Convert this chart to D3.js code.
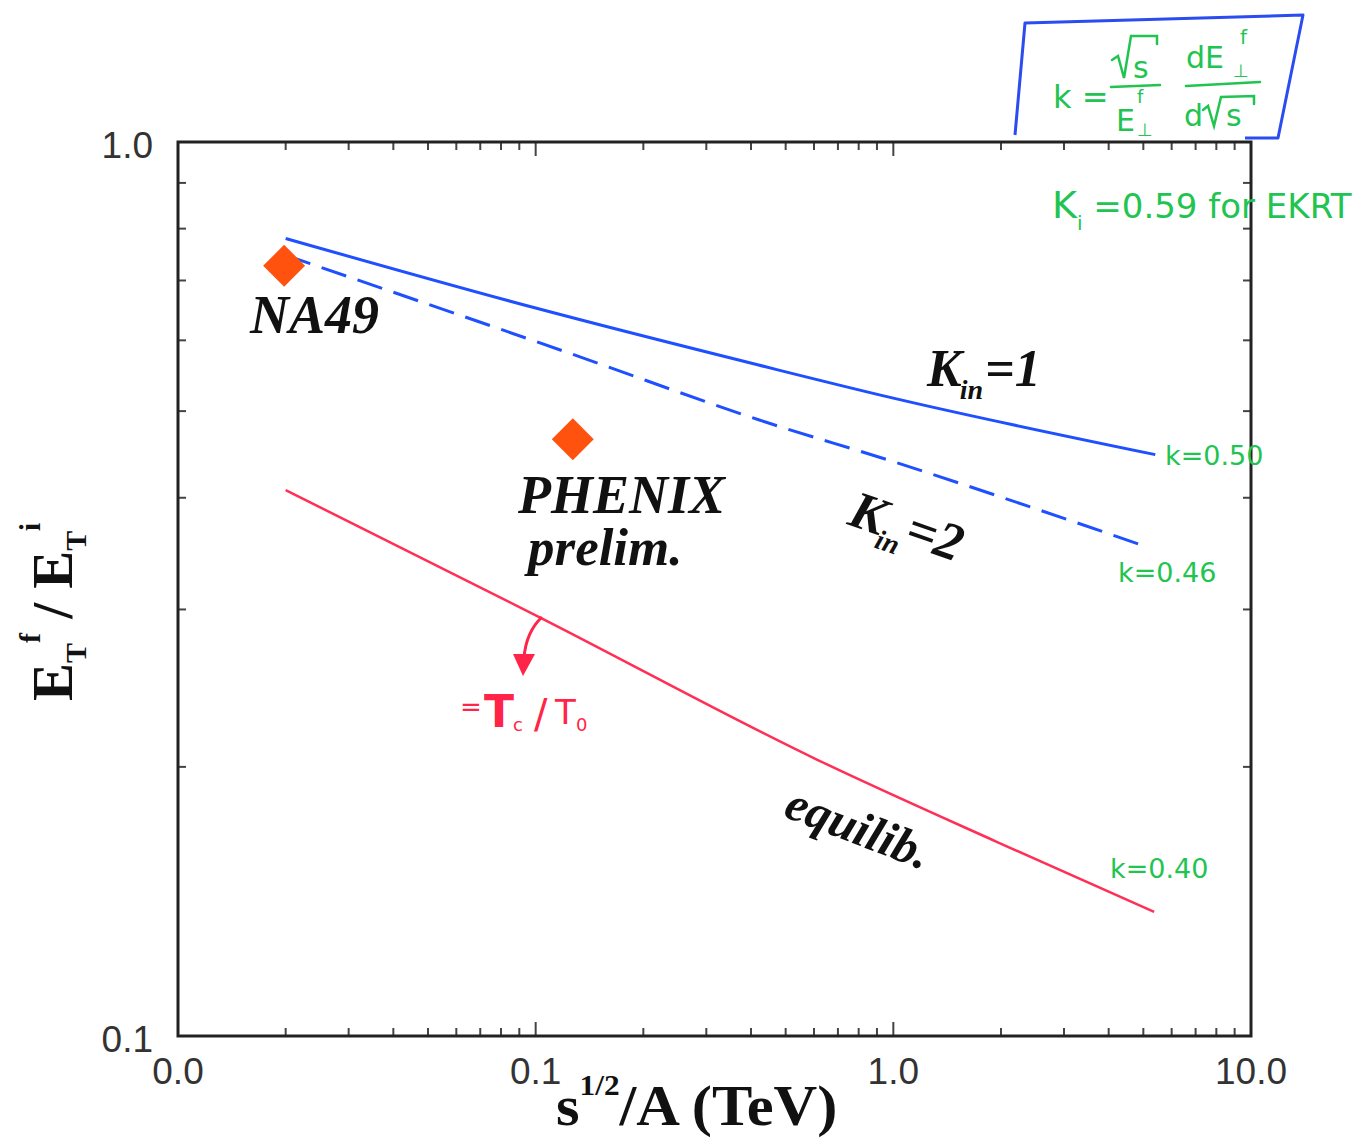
<!DOCTYPE html>
<html><head><meta charset="utf-8">
<script src="https://cdn.jsdelivr.net/npm/d3@7"></script>
<style>body{margin:0;background:#fff}svg{display:block}</style>
</head><body>
<svg id="chart" width="1367" height="1140"></svg>
<script>
// ---- data ----
const kin1X = [0.02, 0.1, 0.42, 1.0, 5.4];
const kin1Y = [0.78, 0.652, 0.563, 0.517, 0.447];
const kin2X = [0.02, 0.133, 0.42, 1.0, 4.96];
const kin2Y = [0.747, 0.575, 0.489, 0.439, 0.354];
const equilX = [0.02, 0.1026, 0.613, 1.952, 5.36];
const equilY = [0.408, 0.294, 0.2037, 0.1648, 0.1377];
const pointNames = ["NA49", "PHENIX"];
const pointX = [0.0198, 0.127];
const pointY = [0.727, 0.465];
const xTickValues = [0.01, 0.1, 1, 10];
const xTickLabels = ["0.0", "0.1", "1.0", "10.0"];
const yTickValues = [0.1, 1];
const yTickLabels = ["0.1", "1.0"];
const kLabels = ["k=0.50", "k=0.46", "k=0.40"];

const svg = d3.select("#chart");
const x = d3.scaleLog().domain([0.01, 10]).range([178, 1251]);
const y = d3.scaleLog().domain([0.1, 1]).range([1036, 142]);
const [x0, x1] = x.range(), [y0, y1] = y.range();

// ---- ticks (all four sides, inward) ----
const tickG = svg.append("g").attr("stroke", "#444").attr("stroke-width", 2);
const isMajor = v => Math.abs(Math.log10(v) - Math.round(Math.log10(v))) < 1e-9;
x.ticks().forEach(v => {
  const px = x(v), L = isMajor(v) ? 14 : 8;
  tickG.append("line").attr("x1", px).attr("x2", px).attr("y1", y0).attr("y2", y0 - L);
  tickG.append("line").attr("x1", px).attr("x2", px).attr("y1", y1).attr("y2", y1 + L);
});
y.ticks().forEach(v => {
  const py = y(v), L = isMajor(v) ? 14 : 8;
  tickG.append("line").attr("y1", py).attr("y2", py).attr("x1", x0).attr("x2", x0 + L);
  tickG.append("line").attr("y1", py).attr("y2", py).attr("x1", x1).attr("x2", x1 - L);
});
// frame
svg.append("rect").attr("x", x0).attr("y", y1).attr("width", x1 - x0).attr("height", y0 - y1)
  .attr("fill", "none").attr("stroke", "#222").attr("stroke-width", 3);

// tick labels
const tickFont = "'Liberation Sans', Arial, sans-serif";
xTickValues.forEach((v, i) => {
  svg.append("text").attr("x", x(v)).attr("y", 1084).attr("text-anchor", "middle")
    .attr("font-family", tickFont).attr("font-size", 37).attr("fill", "#333").text(xTickLabels[i]);
});
yTickValues.forEach((v, i) => {
  svg.append("text").attr("x", 153).attr("y", y(v) + 16).attr("text-anchor", "end")
    .attr("font-family", tickFont).attr("font-size", 37).attr("fill", "#333").text(yTickLabels[i]);
});

// axis titles
const serif = "'Liberation Serif', 'Times New Roman', serif";
const xt = svg.append("text").attr("transform", "translate(556,1125) scale(1.08,1)")
  .attr("font-family", serif).attr("font-weight", "bold").attr("font-size", 56).attr("fill", "#111");
xt.append("tspan").text("s");
xt.append("tspan").attr("font-size", 29).attr("dy", -30).text("1/2");
xt.append("tspan").attr("dy", 30).text("/A (TeV)");

const yt = svg.append("text").attr("transform", "translate(72,612) rotate(-90)").attr("text-anchor", "middle")
  .attr("font-family", serif).attr("font-weight", "bold").attr("font-size", 57).attr("fill", "#111");
yt.append("tspan").text("E");
yt.append("tspan").attr("font-size", 30).attr("dy", 14).text("T");
yt.append("tspan").attr("font-size", 30).attr("dy", -46).text("f");
yt.append("tspan").attr("dy", 32).text(" / E");
yt.append("tspan").attr("font-size", 30).attr("dy", 14).text("T");
yt.append("tspan").attr("font-size", 30).attr("dy", -46).text("i");

// ---- curves ----
const line = d3.line().x(d => x(d[0])).y(d => y(d[1])).curve(d3.curveMonotoneX);
svg.append("path").datum(kin1X.map((v, i) => [v, kin1Y[i]])).attr("d", line)
  .attr("fill", "none").attr("stroke", "#1f50ff").attr("stroke-width", 3);
svg.append("path").datum(kin2X.map((v, i) => [v, kin2Y[i]])).attr("d", line)
  .attr("fill", "none").attr("stroke", "#1f50ff").attr("stroke-width", 3).attr("stroke-dasharray", "26,12");
svg.append("path").datum(equilX.map((v, i) => [v, equilY[i]])).attr("d", line)
  .attr("fill", "none").attr("stroke", "#ff2f55").attr("stroke-width", 2.5);

// ---- data points ----
const sym = d3.symbol().type(d3.symbolSquare).size(880);
pointX.forEach((v, i) => {
  svg.append("path").attr("d", sym())
    .attr("transform", `translate(${x(v)},${y(pointY[i])}) rotate(45)`)
    .attr("fill", "#ff520f");
});

// ---- labels ----
const bi = sel => sel.attr("font-family", serif).attr("font-weight", "bold").attr("font-style", "italic").attr("fill", "#111");
bi(svg.append("text").attr("x", 250).attr("y", 333).attr("font-size", 54)).text("NA49");
bi(svg.append("text").attr("x", 518).attr("y", 513).attr("font-size", 54)).text("PHENIX");
bi(svg.append("text").attr("x", 528).attr("y", 565).attr("font-size", 53)).text("prelim.");

const k1 = bi(svg.append("text").attr("x", 927).attr("y", 386).attr("font-size", 52));
k1.append("tspan").text("K");
k1.append("tspan").attr("font-size", 28).attr("dy", 13).attr("dx", -2).text("in");
k1.append("tspan").attr("dy", -13).attr("dx", 2).text("=1");

const k2 = bi(svg.append("text").attr("transform", "translate(846,524) rotate(19)").attr("font-size", 53));
k2.append("tspan").text("K");
k2.append("tspan").attr("font-size", 28).attr("dy", 13).attr("dx", -2).text("in");
k2.append("tspan").attr("dy", -13).attr("dx", 3).text("=2");

bi(svg.append("text").attr("transform", "translate(782,816) rotate(21)").attr("font-size", 49)).text("equilib.");

// ---- handwritten green annotations ----
const green = "#22c451", hand = "'DejaVu Sans', sans-serif";
const gText = (xx, yy, size, t) => svg.append("text").attr("x", xx).attr("y", yy)
  .attr("font-family", hand).attr("font-size", size).attr("fill", green).text(t);
gText(1165, 465, 27, kLabels[0]);
gText(1118, 582, 27, kLabels[1]);
gText(1110, 878, 27, kLabels[2]);

const ek = svg.append("text").attr("x", 1052).attr("y", 218).attr("font-family", hand).attr("fill", green).attr("font-size", 34);
ek.append("tspan").attr("font-size", 38).text("K");
ek.append("tspan").attr("font-size", 20).attr("dy", 12).text("i");
ek.append("tspan").attr("dy", -12).text(" =0.59 for EKRT");

// formula box
svg.append("path").attr("d", "M1015,135 L1025,23 L1303,15 L1278,138 L1245,138")
  .attr("fill", "none").attr("stroke", "#2a4cf0").attr("stroke-width", 3).attr("stroke-linejoin", "round");
const gStroke = p => svg.append("path").attr("d", p).attr("fill", "none").attr("stroke", green).attr("stroke-width", 2.5).attr("stroke-linecap", "round");
gText(1053, 108, 32, "k =");
// sqrt(s) over E
gStroke("M1112,60 L1118,56 L1124,78 L1131,36 L1157,36 L1157,44");
gText(1133, 78, 30, "s");
gStroke("M1111,87 L1160,85");
gText(1116, 131, 30, "E");
gText(1137, 103, 18, "f");
gText(1137, 136, 18, "\u22A5");
// dE/dsqrt(s)
gText(1186, 68, 30, "dE");
gText(1233, 77, 18, "\u22A5");
gText(1240, 44, 20, "f");
gStroke("M1186,86 L1260,82");
gText(1184, 126, 30, "d");
gStroke("M1203,110 L1208,106 L1214,126 L1221,97 L1254,96 L1254,104");
gText(1226, 126, 30, "s");

// ---- red annotation ----
const red = "#ff2448";
svg.append("path").attr("d", "M542,617 Q526,632 524,658").attr("fill", "none").attr("stroke", red).attr("stroke-width", 3);
svg.append("path").attr("d", "M513,654 L535,654 L523,676 Z").attr("fill", red);
const rt = svg.append("text").attr("font-family", hand).attr("fill", red);
rt.append("tspan").attr("x", 460).attr("y", 716).attr("font-size", 26).text("=");
rt.append("tspan").attr("x", 484).attr("y", 727).attr("font-size", 44).attr("font-weight", "bold").text("T");
rt.append("tspan").attr("x", 513).attr("y", 731).attr("font-size", 18).text("c");
rt.append("tspan").attr("x", 534).attr("y", 728).attr("font-size", 40).text("/");
rt.append("tspan").attr("x", 555).attr("y", 724).attr("font-size", 34).text("T");
rt.append("tspan").attr("x", 576).attr("y", 731).attr("font-size", 18).text("0");
</script>
</body></html>
